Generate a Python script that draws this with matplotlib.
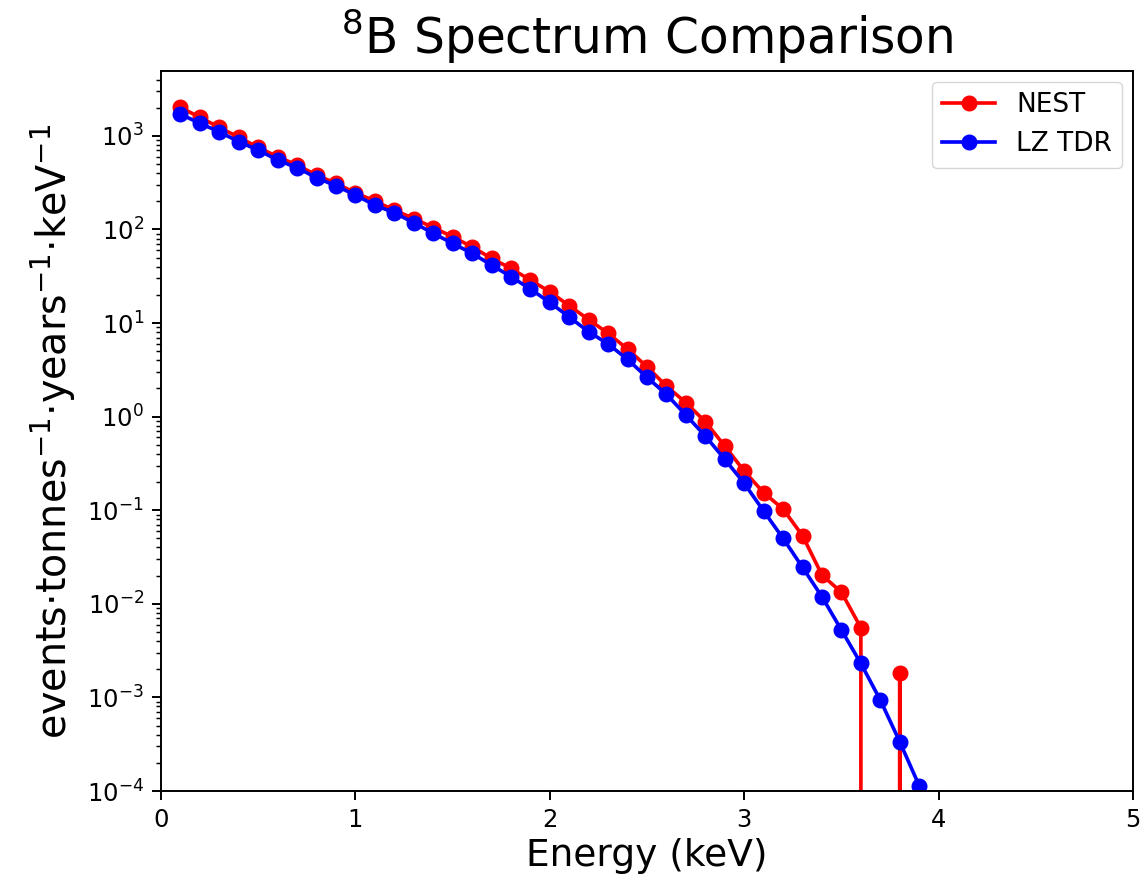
import numpy as np
import matplotlib
matplotlib.use('Agg')
import matplotlib.pyplot as plt

# energies in keV
energy = [0.1, 0.2, 0.3, 0.4, 0.5, 0.6, 0.7, 0.8, 0.9, 1.0,
          1.1, 1.2, 1.3, 1.4, 1.5, 1.6, 1.7, 1.8, 1.9, 2.0,
          2.1, 2.2, 2.3, 2.4, 2.5, 2.6, 2.7, 2.8, 2.9, 3.0,
          3.1, 3.2, 3.3, 3.4, 3.5, 3.6, 3.7, 3.8, 3.9]

# NEST rate (zeros where no events were generated)
nest = [2018, 1577, 1233, 964, 754, 598, 488, 381, 311, 247,
        201, 161, 131, 105, 83.6, 65.3, 49.1, 38.4, 28.8, 21.6,
        15.3, 10.9, 7.76, 5.27, 3.41, 2.12, 1.41, 0.883, 0.485, 0.262,
        0.154, 0.103, 0.0534, 0.0203, 0.0133, 0.00556, 0.0, 0.00184, 0.0]

# LZ TDR rate
lz_tdr = [1710, 1360, 1107, 865, 705, 551, 456, 357, 293, 233,
          182, 151, 118, 91, 71, 55.6, 41.7, 31.3, 23.1, 16.6,
          11.6, 8.07, 5.97, 4.09, 2.63, 1.73, 1.04, 0.621, 0.350, 0.194,
          0.098, 0.0501, 0.0245, 0.0119, 0.00525, 0.00231, 0.000938, 0.000336, 0.000114]

s = 1.75  # overall scale relative to matplotlib defaults

fig = plt.figure(figsize=(11.47, 8.84), dpi=100)
ax = fig.add_axes([0.1404, 0.1052, 0.8474, 0.8145])

ax.plot(energy, nest, color='red', marker='o', lw=1.5 * s, ms=6 * s, label='NEST')
ax.plot(energy, lz_tdr, color='blue', marker='o', lw=1.5 * s, ms=6 * s, label='LZ TDR')

ax.set_yscale('log', nonpositive='clip')
ax.set_xlim(0, 5)
ax.set_ylim(1e-4, 4940)

ax.set_title(r'$^{8}$B Spectrum Comparison', fontsize=35, pad=12)
ax.set_xlabel('Energy (keV)', fontsize=27)
ax.set_ylabel(r'events$\cdot$tonnes$^{-1}$$\cdot$years$^{-1}$$\cdot$keV$^{-1}$',
              fontsize=28.5, labelpad=6)

ax.tick_params(which='major', labelsize=17.5, length=3.5 * s, width=0.8 * s, pad=3.5 * s)
ax.tick_params(which='minor', length=2 * s, width=0.6 * s)
for sp in ax.spines.values():
    sp.set_linewidth(0.8 * s)

ax.legend(loc='upper right', fontsize=19, borderaxespad=0.4)

plt.savefig('out.png', dpi=100)
